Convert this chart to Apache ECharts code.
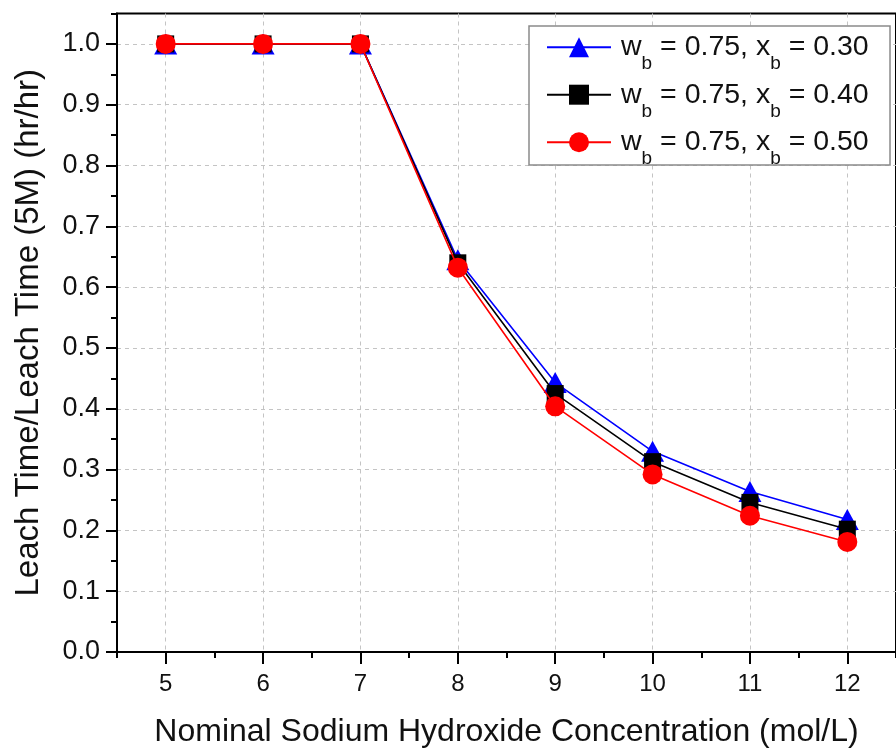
<!DOCTYPE html>
<html>
<head>
<meta charset="utf-8">
<script src="https://cdn.jsdelivr.net/npm/echarts@6/dist/echarts.min.js"></script>
<style>
html,body{margin:0;padding:0;background:#fff;}
#chart{width:896px;height:753px;}
</style>
</head>
<body>
<div id="chart"></div>
<script>
// Data
const concentrations = [5, 6, 7, 8, 9, 10, 11, 12];
const seriesNames = ['w_b = 0.75, x_b = 0.30', 'w_b = 0.75, x_b = 0.40', 'w_b = 0.75, x_b = 0.50'];
const xb030 = [1.0, 1.0, 1.0, 0.645, 0.443, 0.330, 0.264, 0.218];
const xb040 = [1.0, 1.0, 1.0, 0.640, 0.425, 0.313, 0.246, 0.202];
const xb050 = [1.0, 1.0, 1.0, 0.632, 0.404, 0.292, 0.224, 0.181];
const xTickValues = [5, 6, 7, 8, 9, 10, 11, 12];
const yTickValues = [0, 0.1, 0.2, 0.3, 0.4, 0.5, 0.6, 0.7, 0.8, 0.9, 1.0];

const FONT = "'Liberation Sans', Arial, sans-serif";
const chart = echarts.init(document.getElementById('chart'), null, {renderer: 'canvas'});

function pairs(vals) { return concentrations.map((x, i) => [x, vals[i]]); }

function legendFmt(name) {
  const m = name.match(/w_b = ([\d.]+), x_b = ([\d.]+)/);
  return '{g| }{n|w}{s|b}{n| = ' + m[1] + ', x}{s|b}{n| = ' + m[2] + '}';
}

const gridLine = {show: true, lineStyle: {color: '#c4c4c4', width: 1, type: [4, 4]}};

const option = {
  backgroundColor: '#fff',
  animation: false,
  grid: {
    left: 117, width: 784, top: 13.5, bottom: 100,
    show: true, borderColor: '#000', borderWidth: 2, backgroundColor: 'transparent'
  },
  graphic: [{
    type: 'rect', z: 10,
    shape: {x: 529, y: 26, width: 361, height: 139},
    style: {fill: '#fff', stroke: '#8a8a8a', lineWidth: 1.5}
  }],
  xAxis: [
    {
      type: 'value', min: 4.5, max: 12.5, position: 'bottom',
      name: 'Nominal Sodium Hydroxide Concentration (mol/L)',
      nameLocation: 'middle', nameGap: 64,
      nameTextStyle: {fontFamily: FONT, fontSize: 32, color: '#111'},
      axisLine: {show: true, lineStyle: {color: '#000', width: 2}},
      axisTick: {show: true, inside: false, length: 12, customValues: xTickValues, lineStyle: {color: '#000', width: 2}},
      axisLabel: {show: true, margin: 20, customValues: xTickValues, fontFamily: FONT, fontSize: 24, color: '#111'},
      splitLine: gridLine
    },
    {
      type: 'value', min: 4.5, max: 12.5, interval: 0.5, position: 'bottom',
      axisLine: {show: false},
      axisTick: {show: true, inside: false, length: 6, lineStyle: {color: '#000', width: 2}},
      axisLabel: {show: false},
      splitLine: {show: false}
    }
  ],
  yAxis: [
    {
      type: 'value', min: 0, max: 1.05, position: 'left',
      name: 'Leach Time/Leach Time (5M) (hr/hr)',
      nameLocation: 'middle', nameGap: 72,
      nameTextStyle: {fontFamily: FONT, fontSize: 33, color: '#111'},
      axisLine: {show: true, lineStyle: {color: '#000', width: 2}},
      axisTick: {show: true, inside: false, length: 11, customValues: yTickValues, lineStyle: {color: '#000', width: 2}},
      axisLabel: {show: true, margin: 17, customValues: yTickValues, fontFamily: FONT, fontSize: 27, color: '#111',
        formatter: v => v.toFixed(1)},
      splitLine: gridLine
    },
    {
      type: 'value', min: 0, max: 1.05, interval: 0.05, position: 'left',
      axisLine: {show: false},
      axisTick: {show: true, inside: false, length: 6, lineStyle: {color: '#000', width: 2}},
      axisLabel: {show: false},
      splitLine: {show: false}
    }
  ],
  legend: {
    orient: 'vertical',
    left: 546, top: 20.7,
    padding: 0,
    z: 11,
    itemWidth: 64, itemHeight: 25, itemGap: -5.5,
    backgroundColor: 'transparent',
    borderWidth: 0,
    data: seriesNames,
    formatter: legendFmt,
    textStyle: {
      fontFamily: FONT, fontSize: 28.5, color: '#111',
      rich: {
        g: {fontFamily: FONT, fontSize: 28.5, width: 5, lineHeight: 28},
        n: {fontFamily: FONT, fontSize: 28.5, color: '#111', lineHeight: 28},
        s: {fontFamily: FONT, fontSize: 19, color: '#111', lineHeight: 28, padding: [34, 0, 0, 0]}
      }
    }
  },
  series: [
    {
      name: seriesNames[0], type: 'line', data: pairs(xb030),
      xAxisIndex: 0, yAxisIndex: 0,
      symbol: 'triangle', symbolSize: [23, 21],
      itemStyle: {color: '#0000ff'},
      lineStyle: {color: '#0000ff', width: 1.6},
      z: 2
    },
    {
      name: seriesNames[1], type: 'line', data: pairs(xb040),
      xAxisIndex: 0, yAxisIndex: 0,
      symbol: 'rect', symbolSize: 17,
      itemStyle: {color: '#000000'},
      lineStyle: {color: '#000000', width: 1.6},
      z: 3
    },
    {
      name: seriesNames[2], type: 'line', data: pairs(xb050),
      xAxisIndex: 0, yAxisIndex: 0,
      symbol: 'circle', symbolSize: 20,
      itemStyle: {color: '#ff0000'},
      lineStyle: {color: '#ff0000', width: 1.6},
      z: 4
    }
  ]
};
chart.setOption(option);
</script>
</body>
</html>
